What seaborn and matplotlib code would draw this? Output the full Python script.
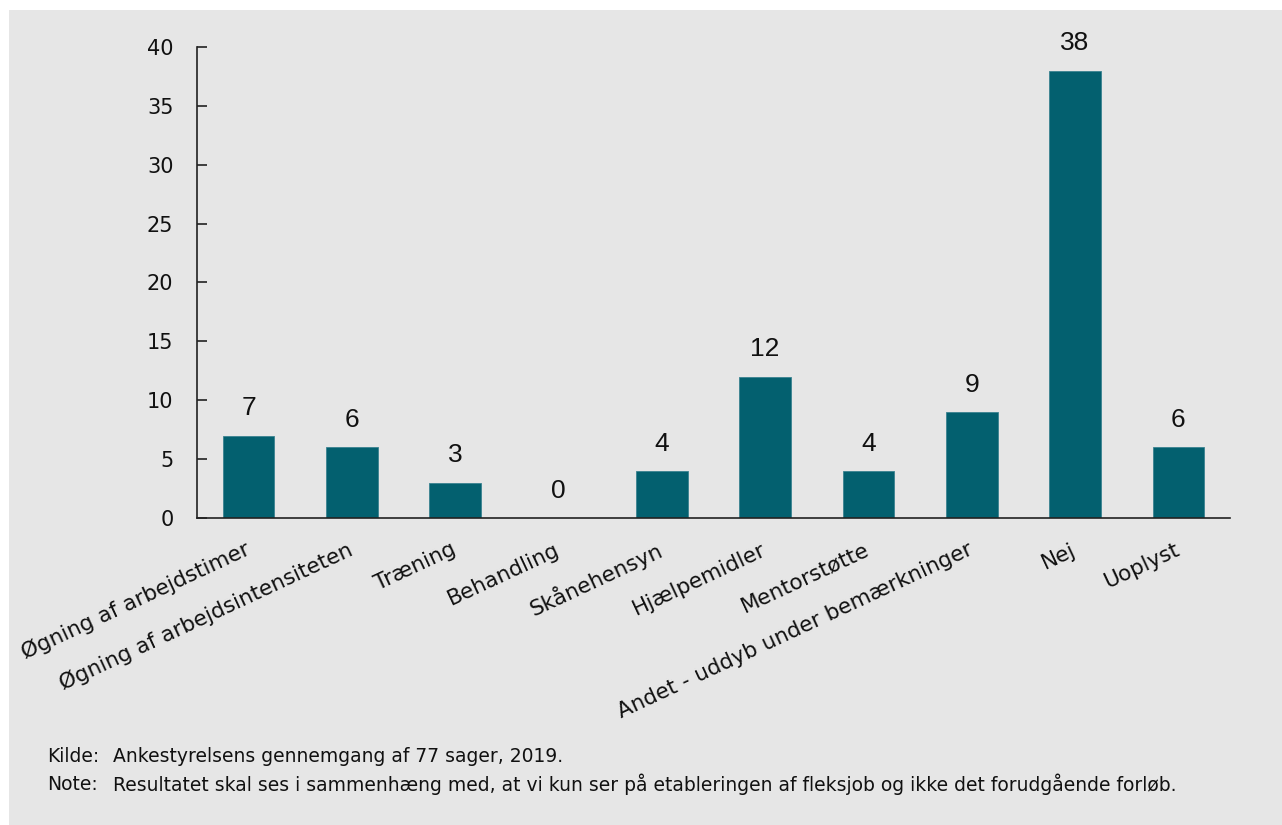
import matplotlib
matplotlib.use("Agg")
import matplotlib.pyplot as plt
import seaborn as sns
import pandas as pd
from matplotlib.patches import Rectangle

# Data
categories = ["Øgning af arbejdstimer", "Øgning af arbejdsintensiteten", "Træning",
              "Behandling", "Skånehensyn", "Hjælpemidler", "Mentorstøtte",
              "Andet - uddyb under bemærkninger", "Nej", "Uoplyst"]
values = [7, 6, 3, 0, 4, 12, 4, 9, 38, 6]
y_ticks = [0, 5, 10, 15, 20, 25, 30, 35, 40]
source_label = "Kilde:"
source_text = "Ankestyrelsens gennemgang af 77 sager, 2019."
note_label = "Note:"
note_text = "Resultatet skal ses i sammenhæng med, at vi kun ser på etableringen af fleksjob og ikke det forudgående forløb."

df = pd.DataFrame({"kategori": categories, "antal": values})

sns.set_style("white")
plt.rcParams["font.family"] = ["DejaVu Sans"]

bg = "#e6e6e6"
bar_color = "#03606f"

fig = plt.figure(figsize=(12.82, 8.25), dpi=100, facecolor="white")
fig.patches.append(Rectangle((9 / 1282, 0), 1, 1 - 10 / 825, transform=fig.transFigure,
                             facecolor=bg, edgecolor="none", zorder=-5))
ax = fig.add_axes([197 / 1282, 1 - 518 / 825, (1230 - 197) / 1282, (518 - 47) / 825])
ax.set_facecolor(bg)

sns.barplot(data=df, x="kategori", y="antal", color=bar_color, width=0.5,
            saturation=1, edgecolor="#3a8290", linewidth=0.6, ax=ax)

ax.bar_label(ax.containers[0], labels=[str(v) for v in values], padding=11,
             fontsize=19, family="Liberation Sans", color="#111111")

ax.set_ylim(0, 40)
ax.set_xlim(-0.5, len(categories) - 0.5)
ax.set_yticks(y_ticks)
ax.set_xlabel("")
ax.set_ylabel("")
sns.despine(ax=ax)
for side in ["left", "bottom"]:
    ax.spines[side].set_color("#222222")
    ax.spines[side].set_linewidth(1.2)

ax.tick_params(axis="y", left=True, direction="in", length=7, width=1.2, color="#222222",
               labelsize=15, labelcolor="#111111", pad=17)
ax.tick_params(axis="x", bottom=False, length=0, labelsize=15.5, labelcolor="#111111", pad=22)
plt.setp(ax.get_xticklabels(), rotation=25, ha="right", va="center", rotation_mode="anchor")

fs = 13.5
fig.text(47 / 1282, 1 - 757 / 825, source_label, fontsize=fs, va="center", color="#111111")
fig.text(113 / 1282, 1 - 757 / 825, source_text, fontsize=fs, va="center", color="#111111")
fig.text(47 / 1282, 1 - 784 / 825, note_label, fontsize=fs, va="center", color="#111111")
fig.text(113 / 1282, 1 - 784 / 825, note_text, fontsize=fs, va="center", color="#111111")

fig.savefig("out.png", dpi=100, facecolor="white")
